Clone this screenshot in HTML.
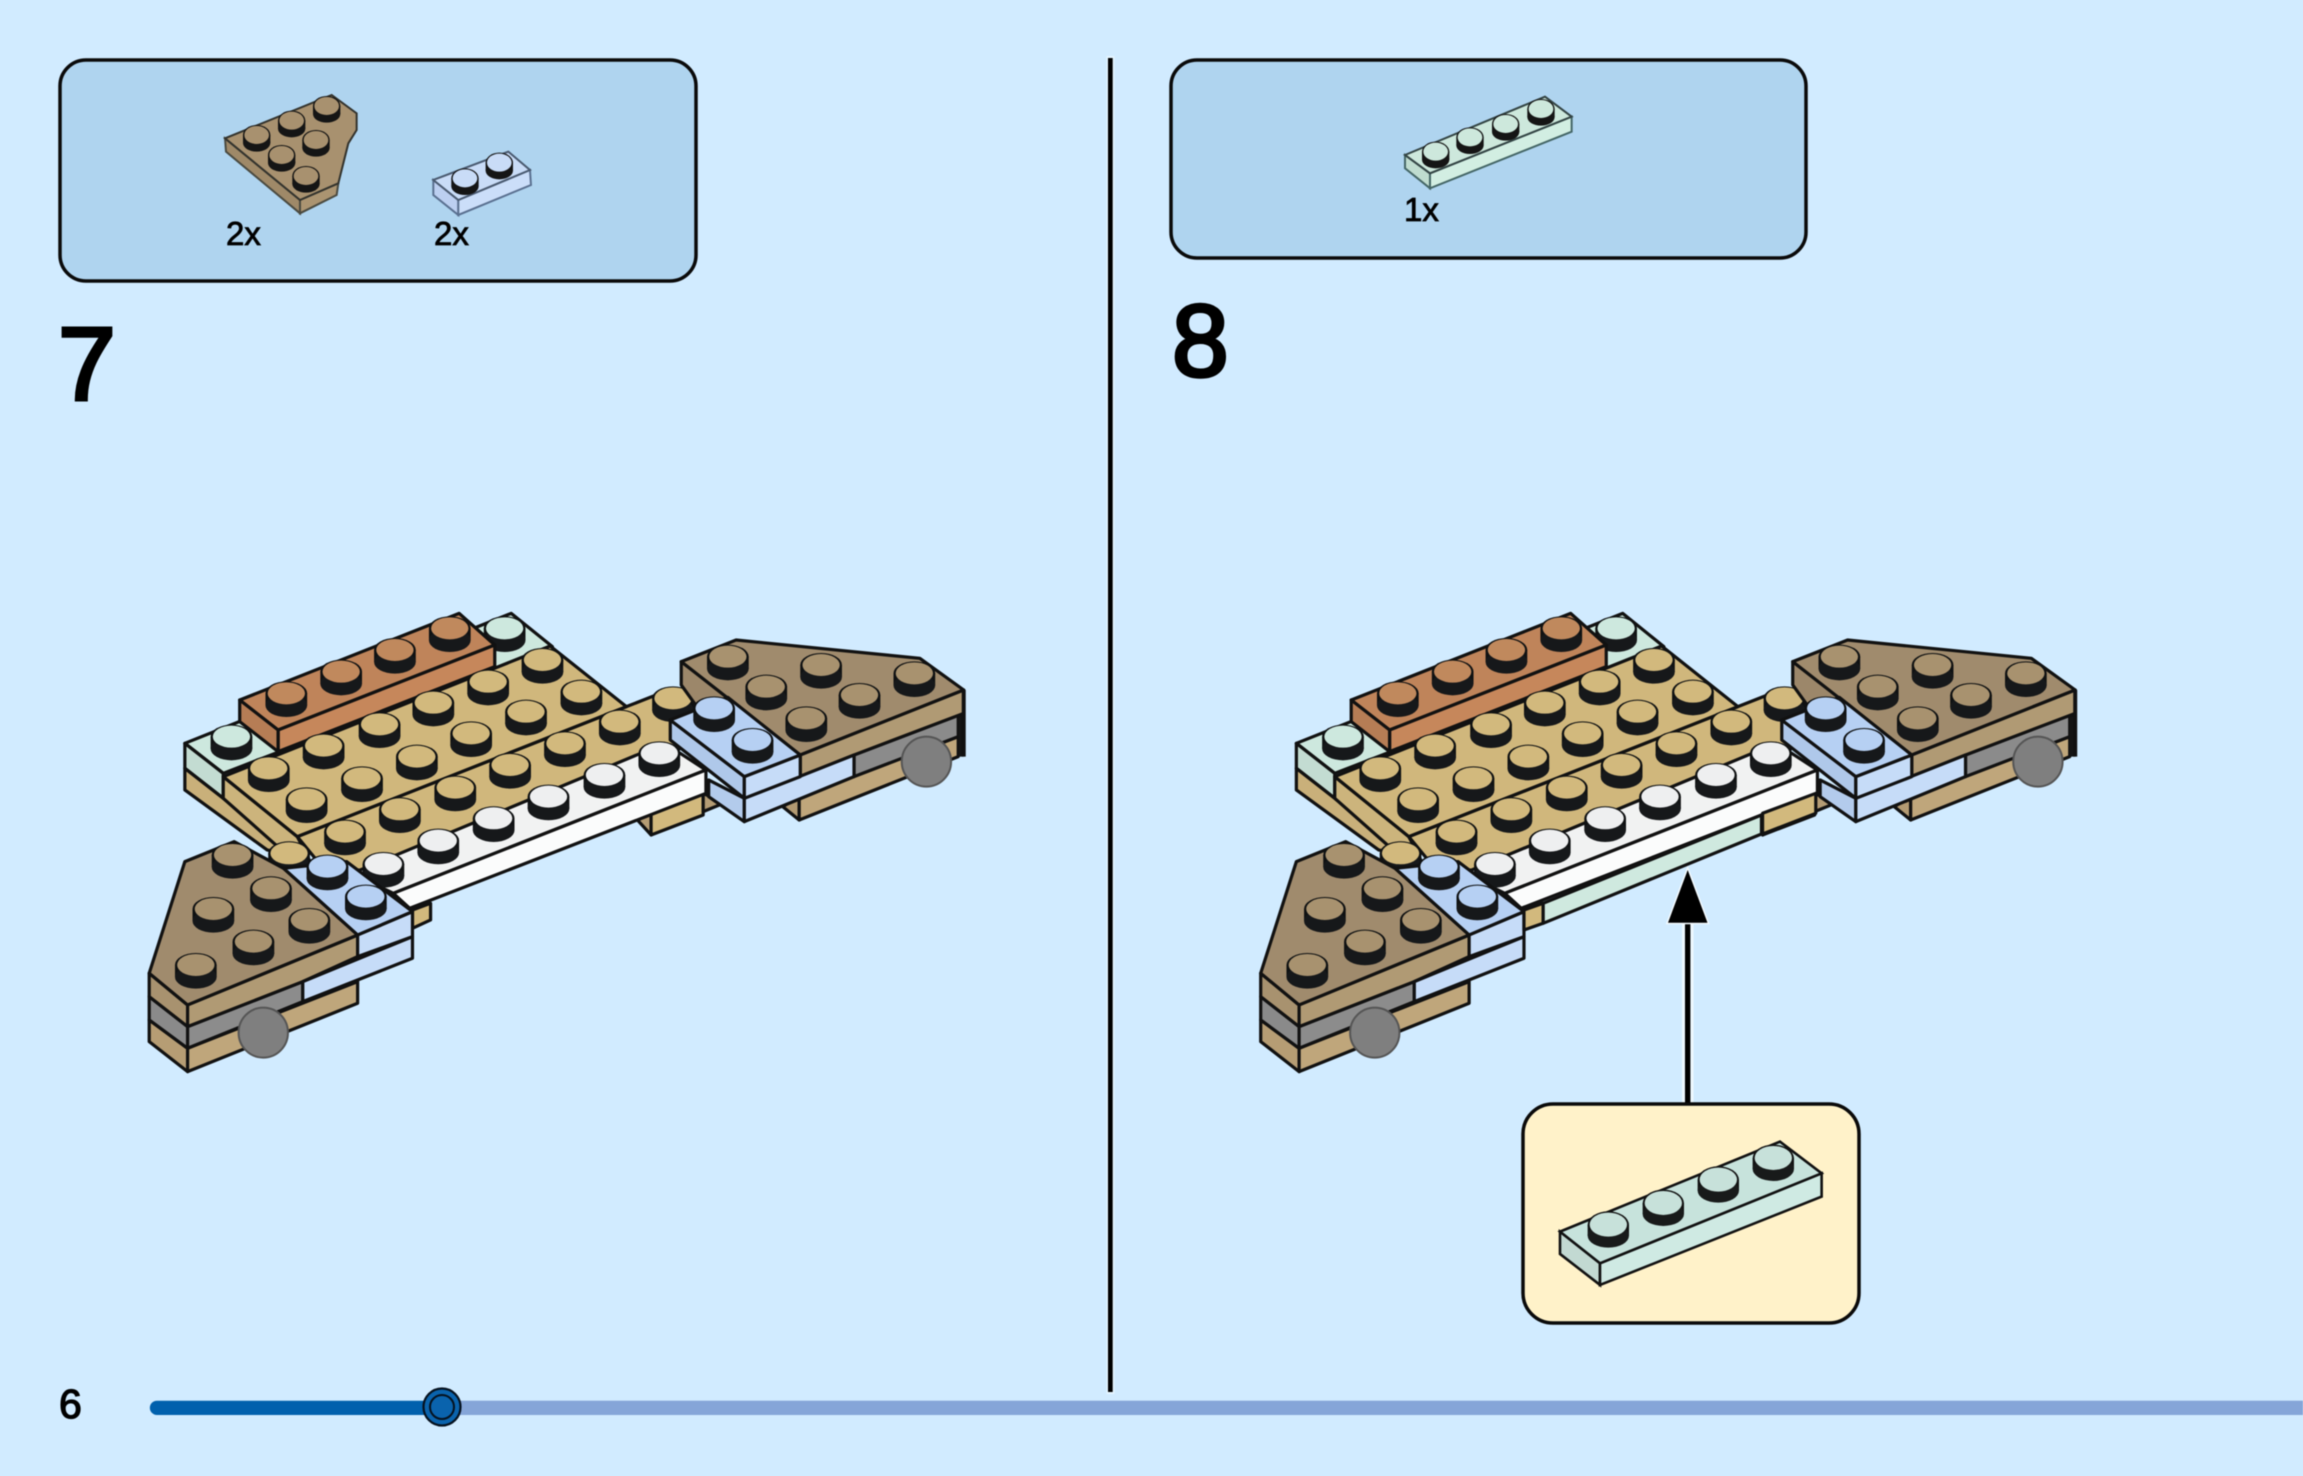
<!DOCTYPE html>
<html>
<head>
<meta charset="utf-8">
<title>Building steps 7 and 8</title>
<style>
html,body{margin:0;padding:0;background:#d1ebff;width:2303px;height:1476px;overflow:hidden}
svg{display:block;filter:blur(.45px)}
polygon,line,ellipse.v{vector-effect:non-scaling-stroke}
#m polygon,#m line{stroke:#111;stroke-width:3.2;stroke-linejoin:round}
#ov polygon{stroke:#111;stroke-width:3.2;stroke-linejoin:round}
text{font-family:"Liberation Sans",sans-serif;fill:#000}
</style>
</head>
<body>
<svg xmlns="http://www.w3.org/2000/svg" width="2303" height="1476" viewBox="0 0 2303 1476">
<defs>
<g id="s"><ellipse cx="0" cy="0" rx="38" ry="36" fill="#0f1112"/><rect x="-38" y="0" width="76" height="36" fill="#0f1112"/><ellipse cx="0" cy="36" rx="38" ry="35" fill="#16181a"/><ellipse cx="0" cy="0" rx="34" ry="33" fill="currentColor"/></g>
<g id="s2"><ellipse cx="0" cy="0" rx="41" ry="30" fill="#111"/><rect x="-41" y="0" width="82" height="24" fill="#111"/><ellipse cx="0" cy="24" rx="41" ry="26" fill="#151515"/><ellipse cx="0" cy="0" rx="37" ry="27" fill="currentColor"/></g>
<g id="s3"><ellipse cx="0" cy="0" rx="62" ry="41" fill="#111"/><rect x="-62" y="0" width="124" height="32" fill="#111"/><ellipse cx="0" cy="32" rx="62" ry="36" fill="#181a1a"/><ellipse cx="0" cy="-1" rx="56" ry="36" fill="currentColor"/></g>

<g id="m">
  <!-- right lower layers -->
  <polygon points="1190,680 1220,650 1220,720" fill="#b39a72"/>
  <polygon points="1220,650 1510,470 1510,530 1220,720" fill="#bfa67b"/>
  <polygon points="1320,525 1510,405 1510,470 1320,590" fill="#8b8b8b"/>
  <rect x="1510" y="395" width="10" height="135" fill="#141414"/>
  <!-- mint plate -->
  <polygon points="100,490 695,100 770,200 170,580" fill="#cde8de"/>
  <polygon points="100,490 170,580 170,655 100,565" fill="#c3dcd2"/>
  <g color="#cde8de"><use href="#s" x="683" y="145"/></g>
  <!-- tan strips under -->
  <polygon points="100,565 170,655 300,830 250,810 100,630" fill="#c9b07a"/>
  <polygon points="170,590 305,770 330,850 290,830 170,655" fill="#ccb47c"/>
  <polygon points="925,720 950,700 950,765" fill="#b49c74"/>
  <polygon points="950,700 1045,640 1045,705 950,765" fill="#d2b97d"/>
  <polygon points="1045,640 1082,670 1045,695" fill="#b49c74"/>
  <polygon points="515,990 548,970 548,1020 515,1045" fill="#d2b97d"/>
  <!-- lower tan plate -->
  <polygon points="305,770 905,380 990,325 1040,400 1000,510 480,880 350,860" fill="#d0b77c"/>
  <!-- upper tan plate -->
  <polygon points="170,590 766,198 905,380 305,770" fill="#d0b77c"/>
  <!-- rust brick -->
  <polygon points="200,360 600,100 665,195 270,450" fill="#bf845a"/>
  <polygon points="270,450 665,195 665,260 270,515" fill="#c6875b"/>
  <polygon points="200,360 270,450 270,515 200,425" fill="#b67d55"/>
  <!-- white brick -->
  <polygon points="405,880 975,490 1050,570 480,940" fill="#f1f2f2"/>
  <polygon points="480,940 1050,570 1050,640 510,985" fill="#fbfcfc"/>
  <!-- studs -->
  <g color="#c0895d"><use href="#s" x="285" y="340"/><use href="#s" x="385" y="275"/><use href="#s" x="483" y="210"/><use href="#s" x="583" y="145"/></g>
  <g color="#cde8de"><use href="#s" x="185" y="470"/></g>
  <g color="#d2b97d">
    <use href="#s" x="752" y="240"/><use href="#s" x="653" y="305"/><use href="#s" x="553" y="368"/><use href="#s" x="455" y="433"/><use href="#s" x="353" y="497"/><use href="#s" x="253" y="565"/>
    <use href="#s" x="823" y="335"/><use href="#s" x="722" y="395"/><use href="#s" x="622" y="460"/><use href="#s" x="523" y="530"/><use href="#s" x="423" y="595"/><use href="#s" x="322" y="658"/>
    <use href="#s" x="990" y="355"/><use href="#s" x="893" y="425"/><use href="#s" x="793" y="490"/><use href="#s" x="693" y="555"/><use href="#s" x="593" y="623"/><use href="#s" x="492" y="688"/><use href="#s" x="392" y="755"/>
    <use href="#s" x="290" y="820"/>
  </g>
  <g color="#eeeff0">
    <use href="#s" x="965" y="520"/><use href="#s" x="865" y="585"/><use href="#s" x="763" y="650"/><use href="#s" x="663" y="715"/><use href="#s" x="562" y="782"/><use href="#s" x="462" y="852"/>
  </g>
  <!-- right wedge -->
  <polygon points="1005,245 1095,360 1040,395 1005,315" fill="#9c876a"/>
  <polygon points="1005,245 1105,180 1440,235 1520,330 1222,525" fill="#a08b6d"/>
  <polygon points="1222,525 1520,330 1520,400 1320,525 1222,590" fill="#b09a74"/>
  <!-- blue right -->
  <polygon points="1055,600 1120,655 1120,725 1055,650" fill="#b3cbec"/>
  <polygon points="1120,655 1320,525 1320,590 1120,725" fill="#c6dcf8"/>
  <polygon points="985,420 1120,590 1120,655 985,480" fill="#afc8ea"/>
  <polygon points="1120,590 1222,525 1222,590 1120,655" fill="#c6dcf8"/>
  <line x1="1520" y1="330" x2="1520" y2="530" style="stroke-width:4"/>
  <g color="#a8926f">
    <use href="#s" x="1090" y="230"/><use href="#s" x="1260" y="255"/><use href="#s" x="1430" y="280"/><use href="#s" x="1160" y="320"/><use href="#s" x="1330" y="345"/><use href="#s" x="1233" y="415"/>
  </g>
  <polygon points="985,420 1090,352 1222,525 1120,590" fill="#b6d0f3"/>
  <g color="#b6d0f3"><use href="#s" x="1065" y="385"/><use href="#s" x="1135" y="480"/></g>
  <ellipse cx="1452" cy="545" rx="45" ry="75" fill="#7f7f7f" stroke="#555" stroke-width="2" class="v"/>

  <!-- left wedge -->
  <polygon points="35,1320 105,1405 105,1475 35,1385" fill="#b69d74"/>
  <polygon points="105,1405 415,1205 415,1270 105,1475" fill="#bfa67b"/>
  <polygon points="35,1250 105,1340 105,1405 35,1320" fill="#8a8a8a"/>
  <polygon points="105,1340 315,1205 315,1265 105,1405" fill="#8c8c8c"/>
  <polygon points="35,1180 105,1275 105,1340 35,1250" fill="#a8926f"/>
  <polygon points="105,1275 415,1065 415,1130 315,1205 105,1340" fill="#b09a74"/>
  <polygon points="315,1205 515,1070 515,1135 315,1265" fill="#c6dcf8"/>
  <polygon points="100,845 190,785 280,865 415,1065 105,1275 35,1180" fill="#a08b6d"/>
  <g color="#a8926f">
    <use href="#s" x="187" y="825"/><use href="#s" x="257" y="925"/><use href="#s" x="152" y="987"/><use href="#s" x="327" y="1020"/><use href="#s" x="225" y="1085"/><use href="#s" x="120" y="1155"/>
  </g>
  <polygon points="415,1065 515,995 515,1070 415,1130" fill="#c6dcf8"/>
  <polygon points="280,865 395,845 515,995 415,1065" fill="#b6d0f3"/>
  <g color="#b6d0f3"><use href="#s" x="360" y="860"/><use href="#s" x="430" y="950"/></g>
  <ellipse cx="243" cy="1358" rx="45" ry="75" fill="#7f7f7f" stroke="#555" stroke-width="2" class="v"/>
</g>
</defs>

<rect width="2303" height="1476" fill="#d1ebff"/>

<!-- divider -->
<rect x="1106.5" y="56" width="8" height="1338" fill="#e4f4ff"/>
<rect x="1108" y="58" width="4.7" height="1334" fill="#000"/>

<!-- parts panels -->
<rect x="60" y="60" width="636" height="221" rx="26" fill="#afd4ef" stroke="#0a0a0a" stroke-width="3.5"/>
<rect x="1171" y="60" width="635" height="198" rx="26" fill="#afd4ef" stroke="#0a0a0a" stroke-width="3.5"/>

<!-- wedge icon -->
<g transform="translate(200 80) scale(.3333)">
  <polygon points="75,175 78,215 300,400 300,360" fill="#9f8968" stroke="#4a4a40" stroke-width="2"/>
  <polygon points="300,360 415,310 410,345 300,400" fill="#ab9471" stroke="#4a4a40" stroke-width="2"/>
  <polygon points="75,175 395,45 470,100 470,150 445,190 420,290 415,310 300,360" fill="#a8916f" stroke="#33332d" stroke-width="2"/>
  <g color="#a8916f"><use href="#s2" x="380" y="78"/><use href="#s2" x="275" y="122"/><use href="#s2" x="170" y="165"/><use href="#s2" x="348" y="180"/><use href="#s2" x="245" y="225"/><use href="#s2" x="318" y="288"/></g>
  <polygon points="700,300 775,360 775,405 700,345" fill="#bccff0" stroke="#5a7090" stroke-width="2"/>
  <polygon points="775,360 990,270 993,315 775,405" fill="#cbdef9" stroke="#5a7090" stroke-width="2"/>
  <polygon points="700,300 925,215 990,270 775,360" fill="#c9dcf7" stroke="#4a5a70" stroke-width="2"/>
  <g color="#c9dcf7"><use href="#s2" x="795" y="295"/><use href="#s2" x="898" y="248"/></g>
</g>

<!-- mint plate icon -->
<g transform="translate(1390 90) scale(.3333)">
  <polygon points="45,195 120,250 120,295 45,235" fill="#bfdccf" stroke="#466" stroke-width="2"/>
  <polygon points="120,250 545,80 545,125 120,295" fill="#d2eee2" stroke="#466" stroke-width="2"/>
  <polygon points="45,195 465,20 545,80 120,250" fill="#cde8dc" stroke="#344" stroke-width="2"/>
  <g color="#cde8dc"><use href="#s2" x="453" y="57"/><use href="#s2" x="347" y="102"/><use href="#s2" x="240" y="142"/><use href="#s2" x="137" y="185"/></g>
</g>

<text x="226" y="245" font-size="33" stroke="#000" stroke-width=".8">2x</text>
<text x="434" y="245" font-size="33" stroke="#000" stroke-width=".8">2x</text>
<text x="1404" y="221" font-size="33" stroke="#000" stroke-width=".8">1x</text>

<text x="58" y="400" font-size="104" stroke="#000" stroke-width="3.5">7</text>
<text x="1172" y="376" font-size="102" stroke="#000" stroke-width="3.5">8</text>
<text x="59" y="1418" font-size="41" stroke="#000" stroke-width="1.3">6</text>

<!-- left model -->
<g transform="translate(130 580) scale(.5485 .3333)"><use href="#m"/></g>

<!-- right model -->
<g transform="translate(1241.5 580) scale(.5485 .3333)">
  <use href="#m"/>
  <g id="ov">
    <polygon points="515,990 550,970 550,1030 515,1050" fill="#d2b97d"/>
    <polygon points="550,970 948,705 948,762 550,1030" fill="#cfe9df"/>
    <polygon points="950,700 1047,640 1047,700 950,762" fill="#d2b97d"/>
  </g>
</g>

<!-- arrow -->
<g>
  <rect x="1682" y="920" width="11.5" height="184" fill="#eef8ff"/>
  <rect x="1685" y="918" width="5.4" height="186" fill="#000"/>
  <polygon points="1687.7,870 1707.5,922.8 1668,922.8" fill="#000" stroke="#f4fbff" stroke-width="3" stroke-linejoin="miter" paint-order="stroke"/>
</g>

<!-- callout -->
<rect x="1523" y="1104" width="336" height="219" rx="30" fill="#fff2c9" stroke="#0a0a0a" stroke-width="3.5"/>
<g transform="translate(1500 830) scale(.3333)">
  <polygon points="180,1205 300,1300 300,1365 180,1272" fill="#c2d9d2" stroke="#111" stroke-width="2.6"/>
  <polygon points="300,1300 965,1030 965,1100 300,1365" fill="#cfeae3" stroke="#111" stroke-width="2.6"/>
  <polygon points="180,1205 840,935 965,1030 300,1300" fill="#c7e3dc" stroke="#111" stroke-width="2.6"/>
  <g color="#c7e1da"><use href="#s3" x="820" y="985"/><use href="#s3" x="655" y="1050"/><use href="#s3" x="490" y="1120"/><use href="#s3" x="325" y="1185"/></g>
</g>

<!-- progress -->
<rect x="440" y="1400.7" width="1863" height="14.3" fill="#85a5d8"/>
<path d="M157 1400.7H442V1415H157a7.15 7.15 0 0 1 0-14.3z" fill="#0060ad"/>
<circle cx="442" cy="1407" r="18.5" fill="#0a63ad" stroke="#06121f" stroke-width="2.2"/>
<circle cx="442" cy="1407" r="12" fill="#0a63ad" stroke="#06121f" stroke-width="2"/>
</svg>
</body>
</html>
